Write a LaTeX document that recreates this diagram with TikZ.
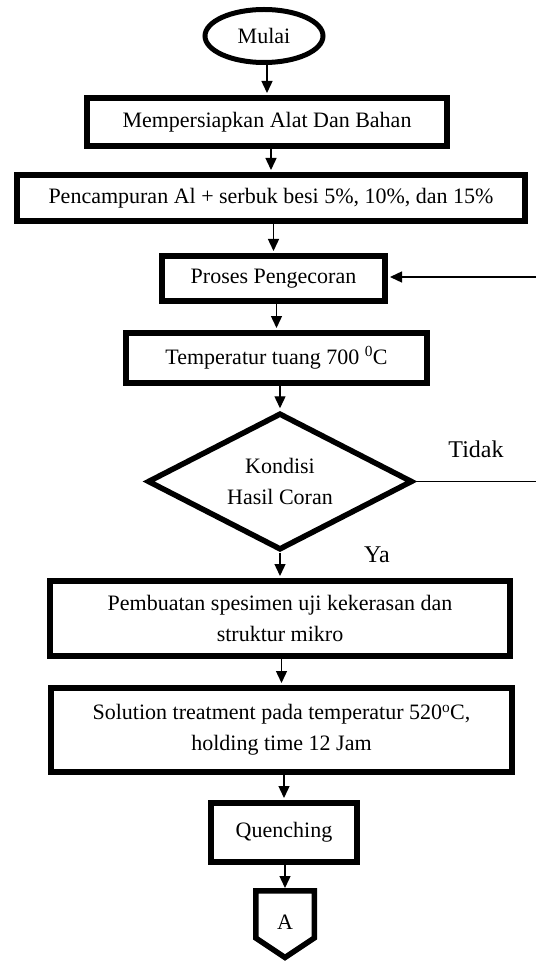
\documentclass[tikz,border=0pt]{standalone}
\usepackage{fontspec}
\setmainfont{Liberation Serif}
\usetikzlibrary{shapes.geometric,arrows.meta}
\begin{document}
\begin{tikzpicture}[x=1pt,y=-1pt,
  font=\fontsize{22}{31}\selectfont,
  box/.style={draw,line width=6pt,rectangle,inner sep=0pt,align=center},
  arr/.style={line width=1.4pt,-{Triangle[length=12pt,width=11pt]},shorten >=2pt},
  plain/.style={line width=1.4pt},
  lbl/.style={inner sep=0pt,font=\fontsize{24}{28}\selectfont}]
\useasboundingbox (0,0) rectangle (536,965);
\fill[white] (0,0) rectangle (536,965);

\node[draw,ellipse,line width=5pt,minimum width=118pt,minimum height=53pt,inner sep=0pt] (start) at (264,36) {Mulai};
\node[box,minimum width=360pt,minimum height=48pt] (b1) at (267,122) {Mempersiapkan Alat Dan Bahan};
\node[box,minimum width=508pt,minimum height=46pt] (b2) at (271,198) {Pencampuran Al + serbuk besi 5\%, 10\%, dan 15\%};
\node[box,minimum width=223pt,minimum height=45pt] (b3) at (273.5,278.5) {Proses Pengecoran};
\node[box,minimum width=301pt,minimum height=50pt] (b4) at (276.5,358) {Temperatur tuang 700 \textsuperscript{0}C};
\node[draw,diamond,line width=5.5pt,aspect=1.9,minimum width=265pt,minimum height=137pt,inner sep=0pt,align=center] (dec) at (280,481.5) {Kondisi\\Hasil Coran};
\node[box,minimum width=460pt,minimum height=75pt] (b5) at (280,618.5) {Pembuatan spesimen uji kekerasan dan\\struktur mikro};
\node[box,minimum width=461pt,minimum height=84pt] (b6) at (281.5,730) {Solution treatment pada temperatur 520\textsuperscript{o}C,\\holding time 12 Jam};
\node[box,minimum width=146pt,minimum height=59pt] (b7) at (284,832.5) {Quenching};

% off-page connector
\draw[line width=5.5pt,line join=miter] (255.75,890.75) -- (314.25,890.75) -- (314.25,938) -- (285,957.5) -- (255.75,938) -- cycle;
\node[inner sep=0pt] (A) at (285,922) {A};
\coordinate (Atop) at (285,888);

% labels
\node[lbl] (tidak) at (476,449) {Tidak};
\node[lbl] (ya) at (377,555) {Ya};

% edge coordinates
\coordinate (fb) at (536,277);
\coordinate (tb) at (536,481.5);

% connectors
\draw[arr] (start.south -| b1.north) -- (b1.north);
\draw[arr] (b1.south -| b2.north) -- (b2.north);
\draw[arr] (b2.south -| b3.north) -- (b3.north);
\draw[arr] (b3.south -| b4.north) -- (b4.north);
\draw[arr] (b4.south -| dec.north) -- (dec.north);
\draw[arr] (dec.south -| b5.north) -- (b5.north);
\draw[arr] (b5.south -| b6.north) -- (b6.north);
\draw[arr] (b6.south -| b7.north) -- (b7.north);
\draw[arr,shorten >=0pt] (b7.south -| Atop) -- (Atop);
\draw[plain] (dec.east) -- (tb);
\draw[arr] (fb) -- (fb -| b3.east);
\end{tikzpicture}
\end{document}
